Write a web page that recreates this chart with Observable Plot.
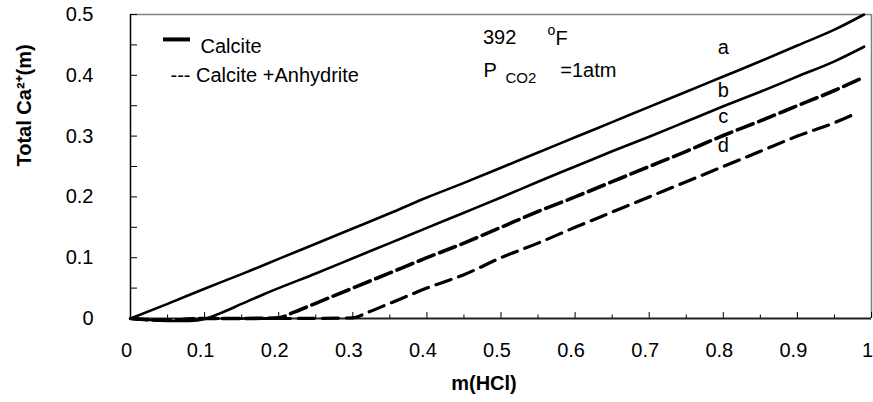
<!DOCTYPE html>
<html>
<head>
<meta charset="utf-8">
<script src="https://cdn.jsdelivr.net/npm/d3@7"></script>
<script src="https://cdn.jsdelivr.net/npm/@observablehq/plot@0.6"></script>
<style>
  html, body { margin: 0; padding: 0; background: #fff; }
</style>
</head>
<body>
<div id="chart"></div>
<script>
// ---- data ----
const xA = [0, 0.05, 0.1, 0.15, 0.2, 0.25, 0.3, 0.35, 0.4, 0.45, 0.5, 0.55, 0.6, 0.65, 0.7, 0.75, 0.8, 0.85, 0.9, 0.95, 0.99];
const yA = [0, 0.024, 0.049, 0.073, 0.098, 0.123, 0.148, 0.173, 0.199, 0.223, 0.248, 0.273, 0.298, 0.323, 0.348, 0.373, 0.398, 0.423, 0.449, 0.475, 0.5];

const xB = [0, 0.02, 0.05, 0.08, 0.1, 0.12, 0.15, 0.18, 0.2, 0.25, 0.3, 0.35, 0.4, 0.45, 0.5, 0.55, 0.6, 0.65, 0.7, 0.75, 0.8, 0.85, 0.9, 0.95, 0.99];
const yB = [0, -0.002, -0.004, -0.004, -0.001, 0.008, 0.024, 0.04, 0.05, 0.074, 0.099, 0.124, 0.149, 0.174, 0.199, 0.225, 0.25, 0.275, 0.299, 0.324, 0.349, 0.373, 0.398, 0.423, 0.447];

const xC = [0, 0.05, 0.1, 0.15, 0.2, 0.22, 0.25, 0.3, 0.35, 0.4, 0.45, 0.5, 0.55, 0.6, 0.65, 0.7, 0.75, 0.8, 0.85, 0.9, 0.95, 0.99];
const yC = [0, -0.003, 0, 0, 0.001, 0.01, 0.025, 0.05, 0.075, 0.1, 0.124, 0.15, 0.176, 0.2, 0.225, 0.25, 0.275, 0.301, 0.325, 0.35, 0.375, 0.397];

const xD = [0, 0.05, 0.1, 0.2, 0.3, 0.32, 0.35, 0.4, 0.45, 0.5, 0.55, 0.6, 0.65, 0.7, 0.75, 0.8, 0.85, 0.9, 0.95, 0.98];
const yD = [0, -0.003, 0, 0, 0.001, 0.01, 0.025, 0.05, 0.072, 0.1, 0.124, 0.15, 0.175, 0.2, 0.225, 0.25, 0.275, 0.3, 0.322, 0.338];

const curveNames = ["a", "b", "c", "d"];
const legendLabels = ["Calcite", "--- Calcite +Anhydrite"];
const xTickLabels = [0, 0.1, 0.2, 0.3, 0.4, 0.5, 0.6, 0.7, 0.8, 0.9, 1];
const xMinorTicks = [0.05, 0.15, 0.25, 0.35, 0.45, 0.55, 0.65, 0.75, 0.85, 0.95];
const yTickLabels = [0, 0.1, 0.2, 0.3, 0.4, 0.5];
const yMinorTicks = [0, 0.05, 0.1, 0.15, 0.2, 0.25, 0.3, 0.35, 0.4, 0.45, 0.5];

const toRows = (xs, ys) => xs.map((x, i) => ({x, y: ys[i]}));
const rowsA = toRows(xA, yA), rowsB = toRows(xB, yB), rowsC = toRows(xC, yC), rowsD = toRows(xD, yD);

const font = "'Liberation Sans', Arial, Helvetica, sans-serif";
const fmt = d => String(d);

const chart = Plot.plot({
  width: 873,
  height: 402,
  marginLeft: 130,
  marginRight: 2,
  marginTop: 14,
  marginBottom: 84,
  style: {fontFamily: font, fontSize: "20px", background: "#fff", color: "#000"},
  x: {domain: [0, 1], axis: null},
  y: {domain: [0, 0.5], axis: null},
  marks: [
    // frame top/right (grey)
    Plot.ruleY([0.5], {stroke: "#808080", strokeWidth: 1.5}),
    Plot.ruleX([1], {stroke: "#808080", strokeWidth: 1.5}),
    // y axis: inward ticks + labels
    Plot.axisY({ticks: yMinorTicks, tickSize: 7, dx: 7, tickFormat: () => "", label: null, stroke: "#000"}),
    Plot.axisY({ticks: yTickLabels, tickSize: 0, tickPadding: 37, tickFormat: fmt, label: null, fontSize: 20}),
    // x axis: inward ticks + labels
    Plot.axisX({ticks: xTickLabels, tickSize: 6, dy: -6, tickFormat: () => "", label: null, stroke: "#000"}),
    Plot.axisX({ticks: xMinorTicks, tickSize: 3.5, dy: -3.5, tickFormat: () => "", label: null, stroke: "#000"}),
    Plot.axisX({ticks: xTickLabels, tickSize: 0, tickPadding: 24, dx: -4, tickFormat: fmt, label: null, fontSize: 20}),
    // axis lines
    Plot.ruleX([0], {stroke: "#000", strokeWidth: 1.5}),
    Plot.ruleY([0], {stroke: "#222", strokeWidth: 2}),
    // curves
    Plot.line(rowsA, {x: "x", y: "y", stroke: "#000", strokeWidth: 2.6, curve: "monotone-x"}),
    Plot.line(rowsB, {x: "x", y: "y", stroke: "#000", strokeWidth: 2.6, curve: "monotone-x"}),
    Plot.line(rowsC, {x: "x", y: "y", stroke: "#000", strokeWidth: 3.6, strokeDasharray: "17,6", curve: "monotone-x"}),
    Plot.line(rowsD, {x: "x", y: "y", stroke: "#000", strokeWidth: 3.2, strokeDasharray: "16,8", curve: "monotone-x"}),
    // curve labels
    Plot.text(curveNames, {x: 0.8, y: (d, i) => [0.4457, 0.375, 0.332, 0.284][i], text: d => d, fontSize: 20, fill: "#000"}),
    // legend
    Plot.ruleY([0.459], {x1: 0.0445, x2: 0.081, stroke: "#000", strokeWidth: 4}),
    Plot.text([legendLabels[0]], {x: 0.0945, y: 0.4465, textAnchor: "start", fontSize: 20, fill: "#000"}),
    Plot.text([legendLabels[1]], {x: 0.054, y: 0.4, textAnchor: "start", fontSize: 20, fill: "#000"}),
    // conditions annotation
    Plot.text(["392"], {x: 0.4757, y: 0.462, textAnchor: "start", fontSize: 20, fill: "#000"}),
    Plot.text(["o"], {x: 0.5628, y: 0.474, textAnchor: "start", fontSize: 14, fill: "#000"}),
    Plot.text(["F"], {x: 0.5735, y: 0.4605, textAnchor: "start", fontSize: 20, fill: "#000"}),
    Plot.text(["P"], {x: 0.4764, y: 0.408, textAnchor: "start", fontSize: 20, fill: "#000"}),
    Plot.text(["CO2"], {x: 0.506, y: 0.396, textAnchor: "start", fontSize: 15, fill: "#000"}),
    Plot.text(["=1atm"], {x: 0.58, y: 0.408, textAnchor: "start", fontSize: 20, fill: "#000"}),
    // axis titles
    Plot.text(["m(HCl)"], {frameAnchor: "bottom", dx: -17, dy: 71, fontSize: 20, fontWeight: "bold", fill: "#000"}),
    Plot.text(["Total Ca²⁺(m)"], {frameAnchor: "left", dx: -106, rotate: -90, fontSize: 20, fontWeight: "bold", fill: "#000"})
  ]
});
document.getElementById("chart").appendChild(chart);
</script>
</body>
</html>
